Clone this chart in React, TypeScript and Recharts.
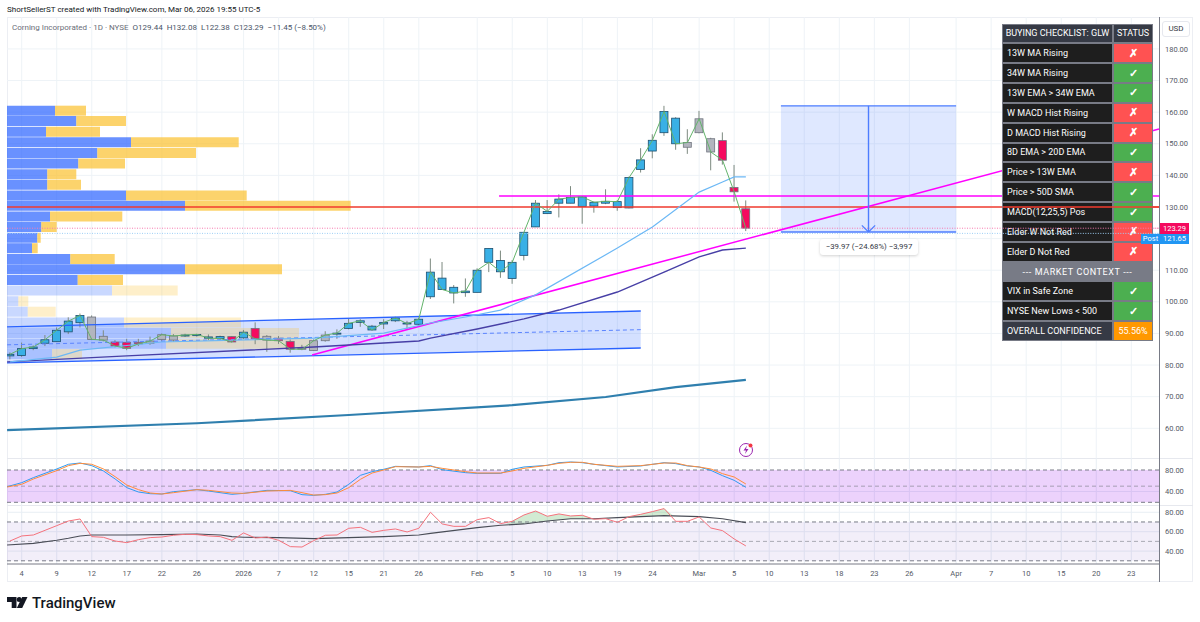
import {
  Area,
  Bar,
  CartesianGrid,
  Cell,
  ComposedChart,
  Line,
  ReferenceArea,
  ReferenceLine,
  XAxis,
  YAxis,
} from 'recharts'

const W = 1200
const H = 622
const FONT = 'Roboto, sans-serif'
const X_DOMAIN = [-0.257, 98.37]
const PRICE_DOMAIN = [50.6, 190.1]

const highs = [84.0, 87.1, 86.2, 89.5, 91.9, 95.1, 96.3, 95.7, 91.0, 87.9, 88.3, 88.3, 89.0, 90.0, 89.8, 89.9, 89.9, 89.7, 89.3, 89.2, 91.1, 93.5, 89.5, 89.2, 88.1, 86.4, 88.1, 90.7, 91.3, 94.7, 94.5, 92.7, 94.5, 95.3, 94.0, 95.0, 113.7, 112.6, 105.3, 107.4, 110.6, 116.9, 116.2, 113.2, 122.0, 132.2, 132.2, 134.0, 136.6, 133.5, 131.7, 135.6, 132.2, 139.6, 148.6, 153.0, 162.0, 158.4, 154.6, 160.4, 151.9, 153.6, 143.3, 132.08]
const lows = [81.8, 82.6, 84.7, 86.0, 87.4, 89.8, 91.9, 87.9, 87.5, 85.6, 84.7, 86.0, 86.4, 87.5, 87.3, 88.9, 89.0, 87.9, 88.1, 87.2, 88.3, 86.6, 84.2, 86.7, 83.9, 84.7, 84.5, 87.4, 88.3, 91.3, 92.1, 90.9, 91.4, 93.6, 91.3, 92.3, 100.9, 103.9, 99.5, 101.6, 103.0, 109.4, 107.6, 105.7, 113.1, 123.7, 127.8, 126.7, 131.2, 124.7, 128.2, 130.9, 128.8, 129.6, 140.9, 145.4, 152.5, 148.1, 146.8, 153.3, 141.6, 143.4, 131.7, 122.38]
const opens = [82.9, 83.0, 85.2, 86.9, 87.4, 90.5, 93.4, 95.2, 89.1, 87.3, 87.2, 87.2, 86.9, 88.1, 87.9, 89.3, 89.3, 88.9, 89.0, 89.0, 88.6, 91.6, 89.1, 88.5, 87.5, 85.3, 84.6, 87.7, 89.8, 91.6, 93.5, 92.3, 93.0, 94.0, 93.3, 92.9, 101.6, 107.5, 104.6, 102.9, 103.0, 116.9, 113.1, 107.4, 114.7, 123.7, 127.9, 131.2, 131.2, 130.2, 130.3, 131.2, 129.8, 129.7, 141.9, 147.7, 153.5, 158.1, 148.9, 153.5, 151.6, 151.0, 136.2, 129.44]
const closes = [83.4, 85.2, 85.7, 88.0, 91.0, 93.9, 95.7, 88.1, 87.9, 86.0, 85.3, 86.7, 87.6, 89.6, 89.2, 89.5, 89.7, 88.5, 88.4, 87.3, 90.4, 88.3, 87.9, 87.7, 85.0, 85.0, 87.7, 89.5, 90.1, 93.2, 94.0, 91.1, 93.5, 94.9, 93.1, 94.5, 109.4, 103.9, 102.8, 103.4, 110.0, 112.5, 109.5, 112.5, 122.0, 131.2, 128.6, 132.5, 133.0, 133.2, 131.5, 131.8, 131.7, 139.3, 144.9, 151.1, 160.2, 150.0, 150.4, 157.9, 147.4, 144.8, 134.8, 123.29]
const tones = 'bbbbbbbggrrrgggbbbbrbrgrrgggbbbbbbbbbbbbbbbbbbbbbbbbbbbbbbgggrrr'

const sma20X = [0, 4, 6, 13, 26, 32, 36, 39, 42, 45, 52, 55, 59, 61, 62, 63]
const sma20 = [81.0, 82.5, 84.7, 87.3, 88.5, 90.1, 93.3, 95.2, 97.4, 102.2, 117.0, 123.7, 134.7, 137.9, 139.5, 139.5]
const sma50X = [-0.25, 10, 26, 35, 36, 40, 44, 47, 52, 56, 59, 61, 63]
const sma50 = [81.0, 82.9, 85.7, 87.6, 88.5, 91.4, 94.6, 97.4, 103.1, 109.4, 114.2, 116.4, 117.0]
const sma200X = [-0.25, 16, 29, 43, 51, 57, 63]
const sma200 = [59.4, 61.6, 64.2, 67.3, 69.9, 73.0, 75.3]

const channelX = [-0.25, 54]
const channelUpper = [92.1, 97.1]
const channelMid = [86.4, 91.2]
const channelLower = [80.7, 85.4]

const profileLevels = [160.4, 157.1, 153.7, 150.4, 147.0, 143.7, 140.3, 137.0, 133.6, 130.3, 126.9, 123.6, 120.2, 116.9, 113.5, 110.2, 106.8, 103.5, 100.1, 96.8, 93.4, 90.1, 86.7, 83.4]
const profileBuy = [48, 69.3, 39, 124, 90.3, 71.3, 40.3, 40.3, 119, 178, 43, 34.3, 30.3, 25, 63.3, 178, 70.7, 105, 11.3, 20.7, 117, 164, 159, 45]
const profileSell = [31, 49.7, 54, 107.7, 98.7, 46.7, 29, 33.7, 120.7, 165.7, 72.3, 15.4, 3.4, 5.7, 44.4, 97, 45.3, 65.7, 10, 28, 117, 128, 146, 30]
const PROFILE_FADED_FROM = 17

const stochBarsK = [-0.25, 1, 2, 4, 5, 6, 7, 8, 9, 10, 11, 12, 13, 14, 16, 17, 19, 20, 22, 24, 25, 26, 27, 28, 29, 30, 31, 32, 33, 35, 36, 37, 39, 40, 42, 43, 44, 46, 47, 48, 49, 50, 52, 54, 56, 57, 58, 59, 60, 61, 62, 63]
const stochK = [49.0, 56.5, 65.8, 81.9, 90.6, 93.0, 88.1, 78.2, 63.3, 47.2, 39.1, 36.0, 35.4, 39.7, 43.5, 41.0, 34.8, 36.6, 42.2, 41.6, 34.2, 32.9, 34.8, 39.1, 53.4, 70.1, 76.9, 81.3, 86.8, 85.6, 88.1, 80.6, 75.1, 73.8, 73.8, 81.3, 85.6, 88.7, 93.6, 94.9, 93.6, 90.6, 85.6, 87.5, 93.6, 91.8, 87.5, 85.6, 79.4, 69.5, 60.8, 47.8]
const stochD = [48.4, 53.4, 63.3, 78.8, 88.1, 92.4, 90.6, 81.9, 67.6, 52.1, 43.5, 37.3, 35.4, 37.9, 43.5, 42.2, 37.3, 36.6, 41.0, 42.2, 37.9, 33.5, 34.2, 37.3, 47.2, 62.7, 74.4, 80.0, 86.2, 85.6, 86.8, 83.1, 76.9, 74.4, 74.4, 78.2, 83.1, 88.7, 92.4, 94.3, 94.3, 90.6, 86.8, 88.1, 93.0, 93.0, 88.1, 85.6, 81.9, 73.2, 67.0, 54.0]

const rsi = [50.4, 55.6, 56.6, 61.4, 66.2, 71.0, 73.1, 54.9, 54.2, 50.4, 48.7, 51.8, 53.9, 54.5, 56.3, 57.3, 57.0, 55.6, 54.9, 51.1, 58.7, 53.5, 54.5, 51.1, 44.6, 44.2, 50.8, 56.3, 56.6, 63.5, 64.5, 59.3, 61.4, 62.8, 59.7, 63.5, 80.0, 68.0, 65.5, 65.5, 72.4, 74.5, 68.3, 70.7, 77.2, 81.3, 75.9, 78.3, 76.2, 76.9, 72.8, 73.4, 69.7, 75.5, 77.9, 80.7, 83.8, 70.7, 70.7, 75.2, 63.8, 61.1, 52.5, 45.3]
const rsiMaX = [-0.25, 2, 4, 5, 6, 7, 10, 13, 16, 18, 19, 20, 23, 26, 29, 32, 35, 36, 40, 42, 44, 46, 48, 50, 52, 54, 56, 59, 61, 63]
const rsiMa = [46.3, 48.0, 51.1, 53.2, 55.6, 56.6, 56.6, 57.0, 57.6, 56.6, 54.9, 54.2, 53.9, 52.8, 53.9, 54.9, 56.6, 58.3, 64.2, 66.6, 68.0, 71.0, 73.4, 73.4, 74.5, 75.5, 76.5, 75.5, 73.4, 69.3]
const rsiGainA = [
  { i: 42.3, band: [67, 67] },
  { i: 44, band: [68, 77.2] },
  { i: 45, band: [69.5, 81.3] },
  { i: 46, band: [71, 75.9] },
  { i: 47, band: [72, 78.3] },
  { i: 48, band: [73.4, 76.2] },
  { i: 49, band: [73.4, 76.9] },
  { i: 49.9, band: [73.4, 73.4] },
]
const rsiGainB = [
  { i: 52.5, band: [74.7, 74.7] },
  { i: 54, band: [75.5, 77.9] },
  { i: 55, band: [76, 80.7] },
  { i: 56, band: [76.5, 83.8] },
  { i: 56.8, band: [76.3, 76.3] },
]

const timeTicks = [1, 4, 7, 10, 13, 16, 20, 23, 26, 29, 32, 35, 40, 43, 46, 49, 52, 55, 59, 62, 65, 68, 71, 74, 77, 81, 84, 87, 90, 93, 96]
const timeLabels = ['4', '9', '12', '17', '22', '26', '2026', '7', '12', '15', '21', '26', 'Feb', '5', '10', '13', '19', '24', 'Mar', '5', '10', '13', '18', '23', '26', 'Apr', '7', '10', '15', '20', '23']
const priceGrid = [180, 170, 160, 150, 140, 130, 120, 110, 100, 90, 80, 70, 60]
const priceTicks = [180, 170, 160, 150, 140, 130, 110, 100, 90, 80, 70, 60]

const checkLabels = ['13W MA Rising', '34W MA Rising', '13W EMA > 34W EMA', 'W MACD Hist Rising', 'D MACD Hist Rising', '8D EMA > 20D EMA', 'Price > 13W EMA', 'Price > 50D SMA', 'MACD(12,25,5) Pos', 'Elder W Not Red', 'Elder D Not Red']
const checkPass = [false, true, true, false, false, true, false, true, true, false, false]
const contextLabels = ['VIX in Safe Zone', 'NYSE New Lows < 500']
const contextPass = [true, true]

const candles = highs.map((high, i) => ({
  i,
  high,
  low: lows[i],
  open: opens[i],
  close: closes[i],
  tone: tones[i],
}))
const profile = profileLevels.map((level, k) => ({ level, buy: profileBuy[k], sell: profileSell[k] }))
const pts = (xs: number[], ys: number[]) => xs.map((i, k) => ({ i, v: ys[k] }))

const BODY = { b: '#39b0e6', r: '#f50a5f', g: '#b2b5be' }
const EDGE = { b: '#1d4f6e', r: '#6f7480', g: '#70747f' }
const BODY_WIDTH = 8

function Candle(props: any) {
  const { x, y, width, height, payload } = props
  const { high, low, open, close, tone } = payload
  const at = (v: number) => y + ((high - v) / (high - low)) * height
  const cx = x + width / 2
  const top = at(Math.max(open, close))
  const bottom = at(Math.min(open, close))
  return (
    <g>
      <line x1={cx} x2={cx} y1={y} y2={y + height} stroke="#7d8a80" strokeWidth={1} />
      <rect x={cx - BODY_WIDTH / 2} y={top} width={BODY_WIDTH} height={Math.max(bottom - top, 1)} fill={BODY[tone]} stroke={EDGE[tone]} strokeWidth={0.8} />
    </g>
  )
}

const layer = { position: 'absolute', left: 0, top: 0 } as const

function Panel({ margin, children }: any) {
  return (
    <div style={layer}>
      <ComposedChart width={W} height={H} data={candles} margin={margin}>
        {children}
      </ComposedChart>
    </div>
  )
}

const MAIN_MARGIN = { top: 17, right: 41, bottom: 164, left: 7 }

function hiddenX() {
  return <XAxis dataKey="i" type="number" domain={X_DOMAIN} allowDataOverflow hide />
}

function ChecklistTable() {
  const cell = { display: 'flex', alignItems: 'center', boxSizing: 'border-box', border: '0.5px solid #787b86', color: '#fff' } as const
  const row = (label: string, pass: boolean) => (
    <div key={label} style={{ display: 'flex', height: 19.85 }}>
      <div style={{ ...cell, width: 111, background: '#1e1e1e', paddingLeft: 4 }}>{label}</div>
      <div style={{ ...cell, width: 40, justifyContent: 'center', fontSize: 11, fontWeight: 700, background: pass ? '#4caf50' : '#ff5252' }}>{pass ? '✓' : '✗'}</div>
    </div>
  )
  return (
    <div style={{ ...layer, left: 1002, top: 23.5, width: 151, fontFamily: FONT, fontSize: 9 }}>
      <div style={{ display: 'flex', height: 19.85 }}>
        <div style={{ ...cell, width: 111, background: '#363a45', justifyContent: 'center' }}>BUYING CHECKLIST: GLW</div>
        <div style={{ ...cell, width: 40, background: '#363a45', justifyContent: 'center' }}>STATUS</div>
      </div>
      {checkLabels.map((l, k) => row(l, checkPass[k]))}
      <div style={{ ...cell, height: 19.85, background: '#787b86', justifyContent: 'center', letterSpacing: 0.6 }}>--- MARKET CONTEXT ---</div>
      {contextLabels.map((l, k) => row(l, contextPass[k]))}
      <div style={{ display: 'flex', height: 19.85 }}>
        <div style={{ ...cell, width: 111, background: '#363a45', paddingLeft: 4 }}>OVERALL CONFIDENCE</div>
        <div style={{ ...cell, width: 40, background: '#ff9800', justifyContent: 'center' }}>55.56%</div>
      </div>
    </div>
  )
}

export default function App() {
  return (
    <div style={{ position: 'fixed', left: 0, top: 0, width: W, height: H, background: '#fff', overflow: 'hidden', fontFamily: FONT }}>
      {/* frame */}
      <div style={{ ...layer, left: 7, top: 17, width: 1186, height: 565, boxSizing: 'border-box', border: '1px solid #eceef3' }} />
      <div style={{ ...layer, left: 7, top: 458, width: 1186, height: 1, background: '#e6e8ee' }} />
      <div style={{ ...layer, left: 7, top: 505, width: 1186, height: 1, background: '#e6e8ee' }} />

      {/* price pane: grid, axis and channel fill, all under the volume profile */}
      <Panel margin={{ top: 17, right: 0, bottom: 164, left: 7 }}>
        <CartesianGrid stroke="#eef3f7" verticalValues={timeTicks} horizontalValues={priceGrid} />
        {hiddenX()}
        <YAxis orientation="right" type="number" width={41} domain={PRICE_DOMAIN} ticks={priceTicks} interval={0} tickSize={0} tickMargin={6} axisLine={false} tick={{ fontSize: 7.5, fill: '#555a66', fontFamily: FONT }} tickFormatter={(v: number) => v.toFixed(2)} />
        <Area data={channelX.map((i, k) => ({ i, band: [channelLower[k], channelUpper[k]] }))} dataKey="band" stroke="none" fill="#2962ff" fillOpacity={0.2} isAnimationActive={false} />
      </Panel>

      {/* volume profile */}
      <div style={layer}>
        <ComposedChart width={W} height={H} data={profile} layout="vertical" margin={MAIN_MARGIN}>
          <XAxis type="number" domain={[0, 1152]} hide />
          <YAxis type="number" dataKey="level" domain={PRICE_DOMAIN} allowDataOverflow reversed hide />
          <Bar dataKey="buy" stackId="vp" barSize={10} isAnimationActive={false}>
            {profile.map((_, k) => (
              <Cell key={k} fill="#2962ff" fillOpacity={k >= PROFILE_FADED_FROM ? 0.25 : 0.7} />
            ))}
          </Bar>
          <Bar dataKey="sell" stackId="vp" barSize={10} isAnimationActive={false}>
            {profile.map((_, k) => (
              <Cell key={k} fill="#fbc02d" fillOpacity={k >= PROFILE_FADED_FROM ? 0.25 : 0.7} />
            ))}
          </Bar>
        </ComposedChart>
      </div>

      {/* price pane: series */}
      <Panel margin={MAIN_MARGIN}>
        {hiddenX()}
        <YAxis type="number" domain={PRICE_DOMAIN} allowDataOverflow hide />
        <Line data={pts(channelX, channelUpper)} dataKey="v" stroke="#2962ff" strokeWidth={1.3} dot={false} isAnimationActive={false} />
        <Line data={pts(channelX, channelLower)} dataKey="v" stroke="#2962ff" strokeWidth={1.3} dot={false} isAnimationActive={false} />
        <Line data={pts(channelX, channelMid)} dataKey="v" stroke="#5b84ff" strokeWidth={1} strokeDasharray="4 3" dot={false} isAnimationActive={false} />
        <ReferenceArea x1={66} x2={81} y1={122.1} y2={162} fill="#2962ff" fillOpacity={0.15} stroke="none" />
        <ReferenceLine y={123.29} stroke="#f77ab0" strokeDasharray="1 1.5" />
        <ReferenceLine y={121.65} stroke="#9ecff5" strokeDasharray="1 1.5" />
        <ReferenceLine y={130} stroke="#f23b2f" strokeWidth={1.4} />
        <ReferenceLine segment={[{ x: 41.87, y: 133.5 }, { x: 98.37, y: 133.5 }]} stroke="#ff00ff" strokeWidth={1.5} />
        <ReferenceLine segment={[{ x: 25.86, y: 83.2 }, { x: 98.37, y: 154.7 }]} stroke="#ff00ff" strokeWidth={1.5} />
        <ReferenceLine segment={[{ x: 66, y: 162 }, { x: 81, y: 162 }]} stroke="#4d7dff" strokeWidth={1.4} />
        <ReferenceLine segment={[{ x: 66, y: 122.1 }, { x: 81, y: 122.1 }]} stroke="#4d7dff" strokeWidth={1.4} />
        <ReferenceLine segment={[{ x: 73.5, y: 162 }, { x: 73.5, y: 122.1 }]} stroke="#4d7dff" strokeWidth={1.4} />
        <ReferenceLine segment={[{ x: 72.93, y: 124.2 }, { x: 73.5, y: 122.1 }]} stroke="#4d7dff" strokeWidth={1.2} />
        <ReferenceLine segment={[{ x: 74.07, y: 124.2 }, { x: 73.5, y: 122.1 }]} stroke="#4d7dff" strokeWidth={1.2} />
        <Line data={pts(sma200X, sma200)} dataKey="v" stroke="#2f7fae" strokeWidth={2.2} dot={false} isAnimationActive={false} />
        <Line data={pts(sma50X, sma50)} dataKey="v" stroke="#473fa6" strokeWidth={1.4} dot={false} isAnimationActive={false} />
        <Line data={pts(sma20X, sma20)} dataKey="v" stroke="#6cb8f5" strokeWidth={1.2} dot={false} isAnimationActive={false} />
        <Line dataKey="close" stroke="#63b46b" strokeWidth={1} dot={false} isAnimationActive={false} />
        <Bar dataKey={(d: any) => [d.low, d.high]} barSize={8} shape={Candle} isAnimationActive={false} />
      </Panel>

      <ChecklistTable />

      {/* price lines that run over the table */}
      <Panel margin={MAIN_MARGIN}>
        {hiddenX()}
        <YAxis type="number" domain={PRICE_DOMAIN} allowDataOverflow hide />
        <ReferenceLine segment={[{ x: 85, y: 130 }, { x: 98.37, y: 130 }]} stroke="#f23b2f" strokeWidth={1.4} />
        <ReferenceLine segment={[{ x: 85, y: 123.29 }, { x: 98.37, y: 123.29 }]} stroke="#f77ab0" strokeDasharray="1 1.5" />
        <ReferenceLine segment={[{ x: 85, y: 121.65 }, { x: 98.37, y: 121.65 }]} stroke="#9ecff5" strokeDasharray="1 1.5" />
      </Panel>

      {/* stochastic pane */}
      <Panel margin={{ top: 458, right: 0, bottom: 117, left: 7 }}>
        <CartesianGrid stroke="#e8eef4" verticalValues={timeTicks} horizontalValues={[40]} />
        {hiddenX()}
        <YAxis orientation="right" type="number" width={41} domain={[15, 102.3]} ticks={[80, 40]} interval={0} tickSize={0} tickMargin={6} axisLine={false} tick={{ fontSize: 7.5, fill: '#555a66', fontFamily: FONT }} tickFormatter={(v: number) => v.toFixed(2)} />
        <ReferenceArea x1={-0.257} x2={98.37} y1={20} y2={80} fill="#a020f0" fillOpacity={0.2} stroke="none" />
        <ReferenceLine y={80} stroke="#787b86" strokeDasharray="4 3" />
        <ReferenceLine y={50} stroke="#787b86" strokeOpacity={0.6} strokeDasharray="4 3" />
        <ReferenceLine y={20} stroke="#787b86" strokeDasharray="4 3" />
        <Line data={pts(stochBarsK, stochK)} dataKey="v" stroke="#2f9bf0" strokeWidth={1} dot={false} isAnimationActive={false} />
        <Line data={pts(stochBarsK, stochD)} dataKey="v" stroke="#ff8c3a" strokeWidth={1} dot={false} isAnimationActive={false} />
      </Panel>

      {/* rsi pane */}
      <Panel margin={{ top: 505, right: 0, bottom: 40, left: 7 }}>
        <CartesianGrid stroke="#e8eef4" verticalValues={timeTicks} horizontalValues={[80, 60, 40]} />
        <XAxis dataKey="i" type="number" domain={X_DOMAIN} allowDataOverflow height={18} ticks={timeTicks} interval={0} tickSize={0} tickMargin={7} axisLine={{ stroke: '#787b86', strokeWidth: 1.2 }} tick={{ fontSize: 7.5, fill: '#555a66', fontFamily: FONT }} tickFormatter={(v: number) => timeLabels[timeTicks.indexOf(v)]} />
        <YAxis orientation="right" type="number" width={41} domain={[26.7, 87.5]} ticks={[80, 60, 40]} interval={0} tickSize={0} tickMargin={6} axisLine={false} tick={{ fontSize: 7.5, fill: '#555a66', fontFamily: FONT }} tickFormatter={(v: number) => v.toFixed(2)} />
        <ReferenceArea x1={-0.257} x2={98.37} y1={30} y2={70} fill="#7e57c2" fillOpacity={0.1} stroke="none" />
        <ReferenceLine y={70} stroke="#787b86" strokeDasharray="4 3" />
        <ReferenceLine y={50} stroke="#787b86" strokeOpacity={0.6} strokeDasharray="4 3" />
        <ReferenceLine y={30} stroke="#787b86" strokeDasharray="4 3" />
        <Area data={rsiGainA} dataKey="band" stroke="none" fill="#4caf50" fillOpacity={0.25} isAnimationActive={false} />
        <Area data={rsiGainB} dataKey="band" stroke="none" fill="#4caf50" fillOpacity={0.25} isAnimationActive={false} />
        <Line data={pts(rsiMaX, rsiMa)} dataKey="v" stroke="#4a4d57" strokeWidth={1.1} dot={false} isAnimationActive={false} />
        <Line dataKey={(d: any) => rsi[d.i]} stroke="#f4727c" strokeWidth={1} dot={false} isAnimationActive={false} />
      </Panel>

      {/* right scale line, USD box and last price tags */}
      <div style={{ ...layer, left: 1159, top: 17, width: 1, height: 565, background: '#787b86' }} />
      <div style={{ ...layer, left: 1162, top: 21, width: 28, height: 16, boxSizing: 'border-box', border: '1px solid #e6e8ee', borderRadius: 3, background: '#fff', fontSize: 8, color: '#363a45', textAlign: 'center', lineHeight: '14px' }}>USD</div>
      <div style={{ ...layer, left: 1160, top: 223, width: 29, height: 11, background: '#f50a5f', color: '#fff', fontSize: 7.5, lineHeight: '11px', textAlign: 'center' }}>123.29</div>
      <div style={{ ...layer, left: 1141, top: 234, width: 19, height: 10, background: '#2196f3', color: '#fff', fontSize: 7.5, lineHeight: '10px', textAlign: 'center' }}>Post</div>
      <div style={{ ...layer, left: 1160, top: 234, width: 29, height: 10, background: '#2196f3', color: '#fff', fontSize: 7.5, lineHeight: '10px', textAlign: 'center' }}>121.65</div>

      {/* position tool label */}
      <div style={{ ...layer, left: 820, top: 239, width: 98, height: 16, borderRadius: 3, background: '#fff', boxShadow: '0 1px 3px rgba(0,0,0,0.18)', fontSize: 7.8, lineHeight: '16px', textAlign: 'center', color: '#363a45' }}>−39.97 (−24.68%) −3,997</div>

      {/* earnings flash icon */}
      <svg style={{ ...layer, left: 736, top: 441 }} width={20} height={18} viewBox="0 0 20 18">
        <circle cx={10} cy={9} r={6.5} fill="#fff" stroke="#9c27b0" strokeWidth={1} />
        <path d="M11 4.5 L7.5 9.5 H10 L9 13 L12.5 8 H10 Z" fill="#9c27b0" />
        <circle cx={14.5} cy={4.5} r={2} fill="#f23645" />
      </svg>

      {/* header text */}
      <div style={{ ...layer, left: 7, top: 4, fontSize: 8, lineHeight: '11px', color: '#131722', whiteSpace: 'nowrap' }}>ShortSellerST created with TradingView.com, Mar 06, 2026 19:55 UTC-5</div>
      <div style={{ ...layer, left: 12, top: 22, fontSize: 8, lineHeight: '11px', color: '#6a6d78', whiteSpace: 'pre' }}>
        {'Corning Incorporated · 1D · NYSE  '}
        <span style={{ color: '#4a5568' }}>O129.44  H132.08  L122.38  C123.29  −11.45 (−8.50%)</span>
      </div>

      {/* logo */}
      <svg style={{ ...layer, left: 7, top: 597 }} width={21} height={12} viewBox="0 0 21 12">
        <path d="M0 0 H9.5 V11 H4.7 V5 H0 Z" fill="#131722" />
        <circle cx={12.2} cy={2.5} r={2.5} fill="#131722" />
        <path d="M20.5 0 L15.2 11 H9.8 L15.2 0 Z" fill="#131722" />
      </svg>
      <div style={{ ...layer, left: 32, top: 593, fontSize: 15, fontWeight: 500, lineHeight: '20px', color: '#131722' }}>TradingView</div>
    </div>
  )
}
